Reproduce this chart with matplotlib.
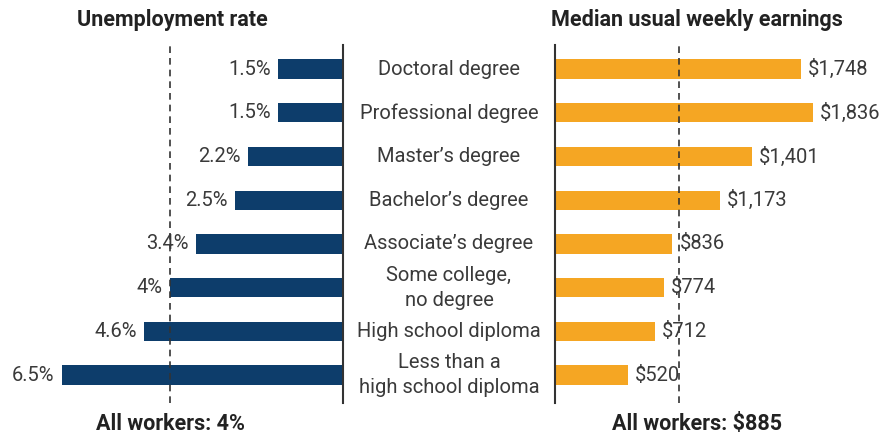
import matplotlib.pyplot as plt
from matplotlib.transforms import blended_transform_factory

categories = ["Doctoral degree", "Professional degree", "Master\u2019s degree",
              "Bachelor\u2019s degree", "Associate\u2019s degree",
              "Some college,\nno degree", "High school diploma",
              "Less than a\nhigh school diploma"]
unemployment = [1.5, 1.5, 2.2, 2.5, 3.4, 4.0, 4.6, 6.5]
unemp_labels = ["1.5%", "1.5%", "2.2%", "2.5%", "3.4%", "4%", "4.6%", "6.5%"]
earnings = [1748, 1836, 1401, 1173, 836, 774, 712, 520]
earn_labels = ["$1,748", "$1,836", "$1,401", "$1,173", "$836", "$774", "$712", "$520"]
all_unemp = 4.0
all_earn = 885

navy = "#0d3d6b"
orange = "#f5a623"
dark = "#333333"

plt.rcParams['font.family'] = ['Roboto', 'DejaVu Sans']

W, H = 886, 436
fig = plt.figure(figsize=(W / 100, H / 100), dpi=100)

top_px, bot_px = 45, 403
ax_l = fig.add_axes([40 / W, (H - bot_px) / H, 303 / W, (bot_px - top_px) / H])
ax_r = fig.add_axes([555 / W, (H - bot_px) / H, 331 / W, (bot_px - top_px) / H])

ypos = list(range(len(categories)))
bar_h = 0.44
fs = 14.5

# left: unemployment, bars grow leftwards
ax_l.barh(ypos, unemployment, height=bar_h, color=navy)
ax_l.set_xlim(7.0, 0)
ax_l.set_ylim(7.64, -0.55)
ax_l.axvline(all_unemp, color=dark, lw=1.2, ls=(0, (4, 3)))
for y, v, lab in zip(ypos, unemployment, unemp_labels):
    ax_l.annotate(lab, (v, y), xytext=(-5, 0), textcoords="offset points",
                  ha="right", va="center", fontsize=fs, color="#3a3a3a")

# right: earnings
ax_r.barh(ypos, earnings, height=bar_h, color=orange)
ax_r.set_xlim(0, 2356)
ax_r.set_ylim(7.64, -0.55)
ax_r.axvline(all_earn, color=dark, lw=1.2, ls=(0, (4, 3)))
for y, v, lab in zip(ypos, earnings, earn_labels):
    ax_r.annotate(lab, (v, y), xytext=(5, 0), textcoords="offset points",
                  ha="left", va="center", fontsize=fs, color="#3a3a3a",
                  annotation_clip=False)

for ax in (ax_l, ax_r):
    ax.set_xticks([])
    ax.set_yticks([])
    for s in ax.spines.values():
        s.set_visible(False)
ax_l.spines["right"].set_visible(True)
ax_l.spines["right"].set_color(dark)
ax_l.spines["right"].set_linewidth(1.5)
ax_r.spines["left"].set_visible(True)
ax_r.spines["left"].set_color(dark)
ax_r.spines["left"].set_linewidth(1.5)

# category labels between the two panels
tr = blended_transform_factory(fig.transFigure, ax_l.transData)
for y, cat in zip(ypos, categories):
    ax_l.text(449 / W, y, cat, transform=tr, ha="center", va="center",
              fontsize=fs, color="#3a3a3a", linespacing=1.4, clip_on=False)

fig.text(172 / W, 1 - 20 / H, "Unemployment rate", ha="center", va="center",
         fontsize=15.5, fontweight="bold", color="#222222")
fig.text(697 / W, 1 - 20 / H, "Median usual weekly earnings", ha="center",
         va="center", fontsize=15.5, fontweight="bold", color="#222222")
fig.text(170 / W, 1 - 424 / H, "All workers: 4%", ha="center", va="center",
         fontsize=15.5, fontweight="bold", color="#222222")
fig.text(697 / W, 1 - 424 / H, "All workers: $885", ha="center", va="center",
         fontsize=15.5, fontweight="bold", color="#222222")

fig.savefig("out.png", dpi=100)
